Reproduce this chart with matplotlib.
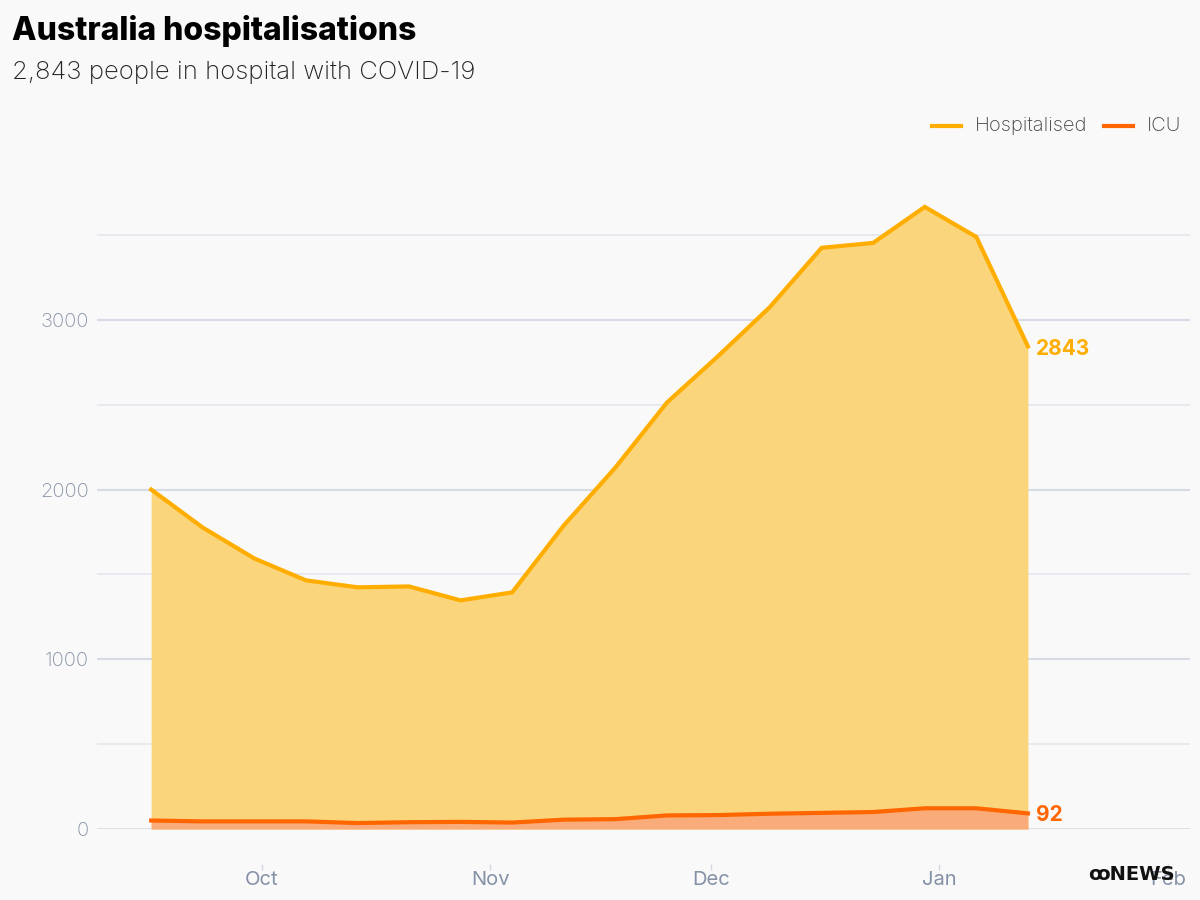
"""
Australia COVID-19 hospitalisations, weekly, with ICU.
"""

import matplotlib

matplotlib.use("Agg")
import matplotlib.dates as mdates
import matplotlib.pyplot as plt
import pandas as pd

dates = pd.date_range("2022-09-16", periods=18, freq="7D")
hospitalised = [2000, 1776, 1594, 1465, 1424, 1429, 1347, 1394, 1788, 2129,
                2512, 2788, 3076, 3424, 3453, 3665, 3488, 2843]
icu = [50, 45, 45, 45, 35, 40, 42, 38, 55, 58, 80, 82, 90, 95, 100, 122, 122, 92]
month_ticks = pd.to_datetime(["2022-10-01", "2022-11-01", "2022-12-01",
                              "2023-01-01", "2023-02-01"])
month_labels = ["Oct", "Nov", "Dec", "Jan", "Feb"]

BG = "#f9f9f9"
HOSP = "#ffae00"
HOSP_FILL = "#fad57c"
ICU = "#ff6600"
ICU_FILL = "#f9ac7a"
TICK = "#8591a6"

plt.rcParams["font.family"] = ["Inter", "DejaVu Sans"]

fig = plt.figure(figsize=(12, 9), dpi=100, facecolor=BG)
ax = fig.add_axes([97 / 1200, 71 / 900, (1190 - 97) / 1200, 645 / 900])
ax.set_facecolor(BG)

x = mdates.date2num(dates)
ax.fill_between(x, 0, hospitalised, color=HOSP_FILL, lw=0, zorder=2)
ax.plot(x, hospitalised, color=HOSP, lw=3, solid_joinstyle="miter", zorder=4)
ax.fill_between(x, 0, icu, color=ICU_FILL, lw=0, zorder=3)
ax.plot(x, icu, color=ICU, lw=3, zorder=5)

# axis limits
left = mdates.date2num(pd.Timestamp("2022-10-01")) - 22.35
right = mdates.date2num(pd.Timestamp("2023-02-01")) + 3.0
ax.set_xlim(left, right)
ax.set_ylim(0, 3800)

# grid
for v in [500, 1500, 2500, 3500]:
    ax.axhline(v, color="#e3e6ec", lw=1.2, zorder=1)
for v in [1000, 2000, 3000]:
    ax.axhline(v, color="#d6dbe5", lw=1.5, zorder=1)
ax.axhline(0, color="#d3d8e0", lw=1.8, zorder=1)

ax.set_yticks([0, 1000, 2000, 3000])
ax.set_yticklabels(["0", "1000", "2000", "3000"])
ax.tick_params(axis="y", length=0, pad=6, labelsize=14.5, labelcolor=TICK)

ax.set_xticks(mdates.date2num(month_ticks))
ax.set_xticklabels(month_labels)
ax.tick_params(axis="x", length=4, width=1, color="#d3d8e0", pad=1,
               labelsize=14.5, labelcolor=TICK)
for lbl in ax.get_xticklabels() + ax.get_yticklabels():
    lbl.set_fontweight("light")

for side in ["top", "right", "left"]:
    ax.spines[side].set_visible(False)
ax.spines["bottom"].set_position(("outward", 25))
ax.spines["bottom"].set_visible(False)

# end labels
ax.annotate(f"{hospitalised[-1]}", (x[-1], hospitalised[-1]), xytext=(6, -2),
            textcoords="offset points", va="center", ha="left",
            color=HOSP, fontsize=15, fontweight="bold", zorder=6)
ax.annotate(f"{icu[-1]}", (x[-1], icu[-1]), xytext=(6, -1),
            textcoords="offset points", va="center", ha="left",
            color=ICU, fontsize=15, fontweight="bold", zorder=6)

# titles
fig.text(12 / 1200, 1 - 31 / 900, "Australia hospitalisations", fontsize=23,
         fontweight="heavy", color="#000000", va="center", ha="left")
fig.text(12 / 1200, 1 - 73 / 900, "2,843 people in hospital with COVID-19",
         fontsize=18.5, fontweight="light", color="#222222", va="center", ha="left")

# legend
fig.add_artist(plt.Line2D([932 / 1200, 961 / 1200], [1 - 126 / 900] * 2,
                          color=HOSP, lw=3))
fig.text(975 / 1200, 1 - 126 / 900, "Hospitalised", fontsize=14.5,
         fontweight="light", color="#444444", va="center", ha="left")
fig.add_artist(plt.Line2D([1104 / 1200, 1133 / 1200], [1 - 126 / 900] * 2,
                          color=ICU, lw=3))
fig.text(1147 / 1200, 1 - 126 / 900, "ICU", fontsize=14.5,
         fontweight="light", color="#444444", va="center", ha="left")

# logo
fig.text(1175 / 1200, 1 - 875 / 900, "ꝏNEWS", family=["DejaVu Sans"],
         fontsize=14, fontweight="bold", color="#111111", va="center", ha="right")

fig.savefig("out.png", dpi=100, facecolor=BG)
